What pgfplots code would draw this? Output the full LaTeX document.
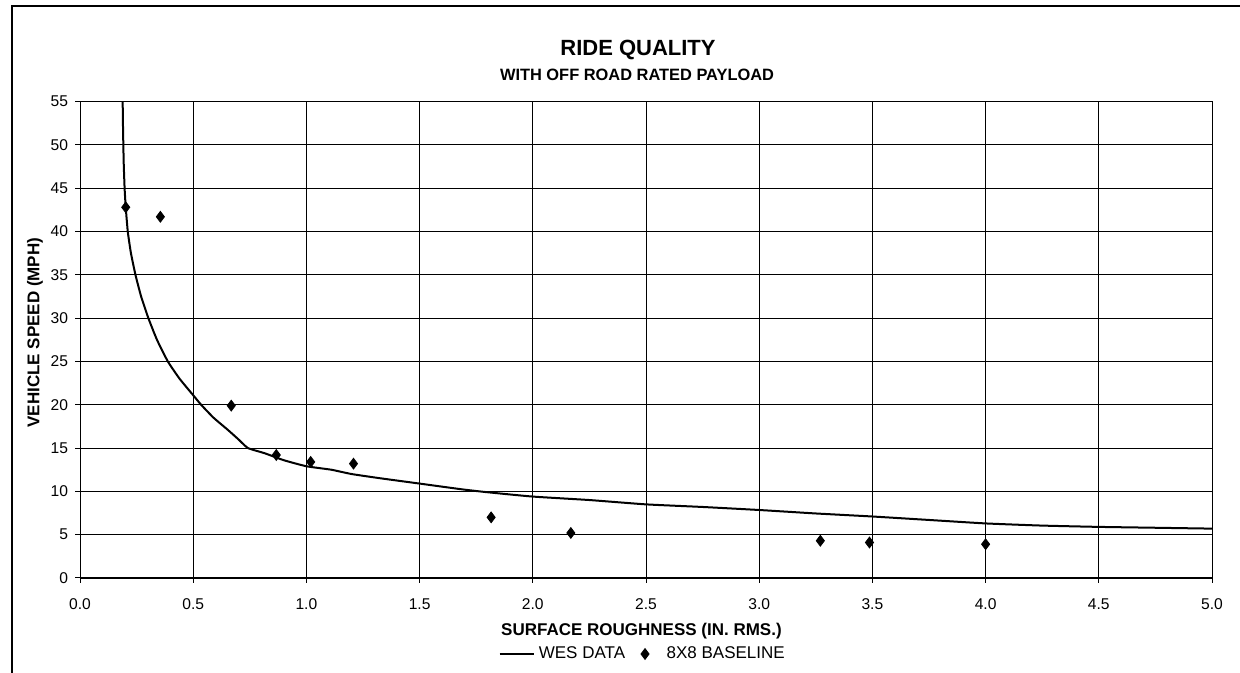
\documentclass[border=0pt]{standalone}
\usepackage{pgfplots}
\pgfplotsset{compat=1.18}
\usepackage{fontspec}
\setmainfont{Liberation Sans}
\pgfplotsset{diamond legend/.style={legend image code/.code={\path[draw=none,fill=none] (0cm,0cm) -- (0.45cm,0cm); \draw[##1] plot coordinates {(0.14cm,0cm)};}}}
\begin{document}
\begin{tikzpicture}
\useasboundingbox (0pt,0pt) rectangle (620pt,336.5pt);
\draw[line width=0.8pt] (6pt,0pt) -- (6pt,333.6pt) -- (620pt,333.6pt);
\node[font=\fontsize{11}{13}\selectfont\bfseries] at (319pt,311.5pt) {RIDE QUALITY};
\node[font=\fontsize{8.2}{10}\selectfont\bfseries] at (318.5pt,299pt) {WITH OFF ROAD RATED PAYLOAD};
\begin{axis}[
  at={(40pt,47.5pt)}, anchor=south west,
  scale only axis, width=566pt, height=238.2pt,
  xmin=0, xmax=5, ymin=0, ymax=55,
  xtick={0,0.5,...,5}, ytick={0,5,...,55},
  grid=major, major grid style={black, line width=0.45pt},
  axis line style={black, line width=0.5pt},
  tick align=outside, major tick length=2.5pt,
  xtick pos=bottom, ytick pos=left,
  tick style={black, line width=0.5pt},
  /pgf/number format/assume math mode=true,
  x tick label style={/pgf/number format/fixed, /pgf/number format/fixed zerofill, /pgf/number format/precision=1, yshift=-4.5pt},
  ticklabel style={font=\fontsize{7.8}{9}\selectfont},
  xlabel={SURFACE ROUGHNESS (IN. RMS.)},
  xlabel style={at={(axis description cs:0.496,0)}, anchor=center, yshift=-26.5pt, font=\fontsize{8.5}{10}\selectfont\bfseries},
  ylabel={VEHICLE SPEED (MPH)},
  ylabel style={at={(axis description cs:-0.0398,0.515)}, anchor=center, font=\fontsize{8.5}{10}\selectfont\bfseries},
  legend columns=-1,
  legend style={at={(axis description cs:0.498,0)}, anchor=center, yshift=-38pt, draw=none, fill=none, font=\fontsize{8.5}{10}\selectfont,
    /tikz/every even column/.append style={column sep=4pt}},
]
\addplot[black, line width=1pt, smooth, tension=0.3] coordinates {
(0.188,56) (0.190,52) (0.193,48) (0.197,45) (0.202,42.8) (0.211,40) (0.225,37.5)
(0.245,35) (0.270,32.5) (0.302,30) (0.340,27.5) (0.388,25) (0.440,23) (0.500,21.1)
(0.535,20) (0.590,18.5) (0.653,17.1) (0.700,16) (0.742,15) (0.816,14.4) (0.900,13.6)
(1.000,12.9) (1.110,12.5) (1.200,12.0) (1.330,11.5) (1.500,10.9) (1.686,10.24)
(1.800,9.9) (2.000,9.4) (2.250,9.0) (2.500,8.5) (2.750,8.2) (3.000,7.85) (3.250,7.45)
(3.500,7.1) (3.750,6.7) (4.000,6.3) (4.250,6.05) (4.500,5.9) (4.750,5.8) (5.000,5.7)
};
\addlegendentry{WES DATA}
\addplot[only marks, mark=diamond*, mark size=2.7pt, black, diamond legend] coordinates {
(0.202,42.8) (0.355,41.7) (0.668,19.9) (0.867,14.2) (1.019,13.4) (1.208,13.2)
(1.816,7.0) (2.168,5.2) (3.270,4.3) (3.487,4.1) (4.000,3.9)
};
\addlegendentry{8X8 BASELINE}
\end{axis}
\end{tikzpicture}
\end{document}
